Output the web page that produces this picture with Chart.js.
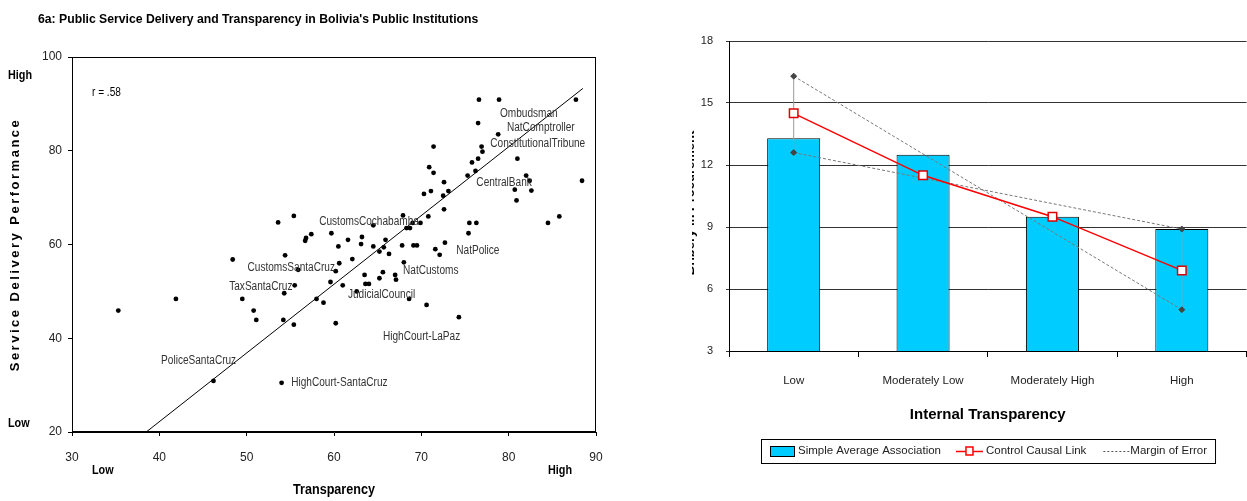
<!DOCTYPE html>
<html>
<head>
<meta charset="utf-8">
<script src="https://cdn.jsdelivr.net/npm/chart.js@4.4.0/dist/chart.umd.min.js"></script>
<style>
html, body { margin: 0; padding: 0; background: #fff; width: 1247px; height: 501px; overflow: hidden; }
#scatter { position: absolute; left: 0; top: 0; }
#bars { position: absolute; left: 692px; top: 0; }
</style>
</head>
<body>
<canvas id="scatter" width="640" height="501"></canvas>
<canvas id="bars" width="562" height="501"></canvas>
<script>
// ---- left chart: institutions, transparency vs service delivery
var transparency = [35.3, 41.9, 46.2, 48.4, 49.5, 50.8, 51.1, 54.0, 54.2, 54.3,
  55.4, 55.5, 55.9, 58.0, 58.8, 59.6, 60.2, 60.2, 60.6, 55.4,
  53.6, 57.4, 56.8, 56.7, 59.7, 61.6, 63.2, 63.1, 60.5, 64.5,
  64.5, 65.9, 65.7, 65.2, 66.3, 54.4, 62.1, 61.0, 63.5, 64.0,
  63.6, 65.2, 65.6, 67.0, 67.1, 62.6, 76.6, 78.9, 87.7, 76.5,
  78.8, 76.9, 77.0, 71.4, 76.5, 75.8, 81.0, 70.9, 71.4, 76.2,
  75.3, 82.0, 82.4, 88.4, 72.6, 73.1, 71.1, 70.3, 72.5, 80.7,
  82.6, 80.9, 72.6, 70.8, 67.9, 69.9, 68.3, 68.7, 69.0, 75.5,
  76.3, 75.4, 84.5, 85.8, 67.8, 69.1, 69.5, 72.7, 71.6, 72.1,
  68.0, 68.6, 70.6, 74.3];
var serviceDelivery = [45.9, 48.4, 30.9, 56.8, 48.4, 45.9, 43.9, 30.5, 43.9, 49.6,
  42.9, 51.3, 54.6, 48.4, 47.6, 52.0, 54.3, 43.2, 56.0, 66.1,
  64.7, 62.2, 61.4, 60.8, 62.4, 61.0, 61.6, 60.1, 59.6, 64.1,
  59.6, 61.0, 59.4, 58.5, 58.0, 57.7, 56.9, 51.3, 53.5, 51.6,
  51.6, 52.8, 54.1, 53.5, 52.5, 50.0, 90.9, 90.9, 90.9, 85.9,
  83.5, 80.9, 79.8, 80.9, 78.3, 77.5, 78.3, 76.5, 75.3, 75.7,
  74.7, 74.7, 73.6, 73.6, 73.3, 71.4, 71.4, 70.8, 70.4, 71.7,
  71.5, 69.4, 67.5, 66.0, 66.2, 64.6, 63.5, 63.5, 64.6, 64.6,
  64.6, 62.4, 64.6, 66.0, 59.8, 59.8, 59.8, 60.4, 59.0, 57.8,
  56.2, 48.4, 47.1, 44.5];

// fitted line end points
var fitX = [38.5, 88.5];
var fitY = [20, 93.3];

// institution names and where their text sits (data units, left edge)
var instNames = ['Ombudsman', 'NatComptroller', 'ConstitutionalTribune', 'CentralBank',
  'CustomsCochabamba', 'NatPolice', 'NatCustoms', 'JudicialCouncil', 'CustomsSantaCruz',
  'TaxSantaCruz', 'HighCourt-LaPaz', 'PoliceSantaCruz', 'HighCourt-SantaCruz'];
var instX = [79.0, 79.8, 77.9, 76.3, 58.3, 74.0, 67.9, 61.6, 50.1, 48.0, 65.6, 40.2, 55.1];
var instY = [87.9, 84.9, 81.6, 73.1, 64.8, 58.7, 54.4, 49.4, 55.1, 50.9, 40.4, 35.3, 30.6];

var xTicks = [30, 40, 50, 60, 70, 80, 90];
var yTicks = [20, 40, 60, 80, 100];

// ---- right chart: internal transparency
var categories = ['Low', 'Moderately Low', 'Moderately High', 'High'];
var simpleAverage = [13.3, 12.5, 9.5, 8.9];
var controlCausal = [14.5, 11.5, 9.5, 6.9];
var marginA = [16.3, null, null, 5.0];
var marginB = [12.6, null, null, 8.9];

var plain = '"Liberation Sans", Arial, sans-serif';

var scatterPoints = transparency.map(function(v, i) { return { x: v, y: serviceDelivery[i] }; });
var fitPoints = fitX.map(function(v, i) { return { x: v, y: fitY[i] }; });

// no narrow font installed, so squeeze the text a bit
function squeezed(ctx, text, x, y, sx) {
  ctx.save();
  ctx.translate(x, y);
  ctx.scale(sx, 1);
  ctx.fillText(text, 0, 0);
  ctx.restore();
}

var scatterText = {
  id: 'scatterText',
  afterDraw: function(chart) {
    var ctx = chart.ctx, a = chart.chartArea;
    var xs = chart.scales.x, ys = chart.scales.y;
    ctx.save();
    ctx.strokeStyle = '#000';
    ctx.lineWidth = 1;
    ctx.strokeRect(Math.round(a.left) + 0.5, Math.round(a.top) + 0.5,
      Math.round(a.right - a.left) - 1, Math.round(a.bottom - a.top) - 1);

    ctx.fillStyle = '#333';
    ctx.font = '12px ' + plain;
    ctx.textBaseline = 'middle';
    ctx.textAlign = 'left';
    instNames.forEach(function(n, i) {
      squeezed(ctx, n, xs.getPixelForValue(instX[i]), ys.getPixelForValue(instY[i]), 0.84);
    });
    ctx.fillStyle = '#000';
    squeezed(ctx, 'r = .58', 92, 93, 0.84);

    ctx.font = 'bold 13px ' + plain;
    squeezed(ctx, "6a: Public Service Delivery and Transparency in Bolivia's Public Institutions", 38, 19, 0.94);

    ctx.font = 'bold 12px ' + plain;
    squeezed(ctx, 'High', 8, 76, 0.9);
    squeezed(ctx, 'Low', 8, 424, 0.9);
    squeezed(ctx, 'Low', 92, 471, 0.9);
    squeezed(ctx, 'High', 548, 471, 0.9);
    ctx.textAlign = 'center';
    ctx.font = 'bold 14px ' + plain;
    squeezed(ctx, 'Transparency', 334, 490, 0.9);

    ctx.translate(15, (a.top + a.bottom) / 2);
    ctx.rotate(-Math.PI / 2);
    ctx.font = 'bold 13px ' + plain;
    ctx.letterSpacing = '2.5px';
    ctx.fillText('Service Delivery Performance', 0, 0);
    ctx.restore();
  }
};

new Chart(document.getElementById('scatter'), {
  type: 'scatter',
  data: {
    datasets: [{
      data: scatterPoints,
      pointRadius: 2.4,
      pointBackgroundColor: '#000',
      pointBorderWidth: 0
    }, {
      type: 'line',
      data: fitPoints,
      borderColor: '#000',
      borderWidth: 1,
      pointRadius: 0
    }]
  },
  options: {
    responsive: false,
    animation: false,
    layout: { padding: { left: 0, right: 44, top: 57, bottom: 0 } },
    plugins: { legend: { display: false }, tooltip: { enabled: false } },
    scales: {
      x: {
        type: 'linear', min: 30, max: 90,
        afterBuildTicks: function(s) { s.ticks = xTicks.map(function(v) { return { value: v }; }); },
        afterFit: function(s) { s.height = 69; },
        grid: { drawOnChartArea: false, tickLength: 4, color: '#000' },
        border: { color: '#000' },
        ticks: { padding: 14, color: '#222', font: { family: plain, size: 12 } }
      },
      y: {
        min: 20, max: 100,
        afterBuildTicks: function(s) { s.ticks = yTicks.map(function(v) { return { value: v }; }); },
        afterFit: function(s) { s.width = 72; },
        grid: { drawOnChartArea: false, tickLength: 4, color: '#000' },
        border: { color: '#000' },
        ticks: { padding: 6, color: '#222', font: { family: plain, size: 12 } }
      }
    }
  },
  plugins: [scatterText]
});

// legend in a frame plus the clipped side title
var boxLegend = {
  id: 'boxLegend',
  afterDraw: function(chart) {
    var ctx = chart.ctx, ds = chart.data.datasets;
    var y = 451, x = 78;
    ctx.save();
    ctx.font = '11.5px ' + plain;
    ctx.textBaseline = 'middle';
    ctx.textAlign = 'left';

    ctx.strokeStyle = '#000';
    ctx.lineWidth = 1;
    ctx.fillStyle = ds[0].backgroundColor;
    ctx.fillRect(x, y - 5, 24, 10);
    ctx.strokeRect(x + 0.5, y - 5 + 0.5, 24, 10);
    x += 28;
    ctx.fillStyle = '#222';
    ctx.fillText(ds[0].label, x, y);
    x += ctx.measureText(ds[0].label).width + 15;

    ctx.strokeStyle = ds[1].borderColor;
    ctx.lineWidth = 1.5;
    ctx.beginPath(); ctx.moveTo(x, y + 0.5); ctx.lineTo(x + 27, y + 0.5); ctx.stroke();
    ctx.fillStyle = '#fff';
    ctx.fillRect(x + 10, y - 4, 7, 8);
    ctx.strokeRect(x + 10, y - 4, 7, 8);
    x += 30;
    ctx.fillStyle = '#222';
    ctx.fillText(ds[1].label, x, y);
    x += ctx.measureText(ds[1].label).width + 17;

    ctx.strokeStyle = '#555';
    ctx.lineWidth = 1;
    ctx.setLineDash([2, 2]);
    ctx.beginPath(); ctx.moveTo(x, y + 0.5); ctx.lineTo(x + 26, y + 0.5); ctx.stroke();
    ctx.setLineDash([]);
    x += 27;
    ctx.fillText(ds[2].label, x, y);
    x += ctx.measureText(ds[2].label).width + 8;

    ctx.strokeStyle = '#000';
    ctx.lineWidth = 1;
    ctx.strokeRect(69.5, 439.5, x - 69, 24);

    ctx.translate(-2, 203);
    ctx.rotate(-Math.PI / 2);
    ctx.textAlign = 'center';
    ctx.fillStyle = '#000';
    ctx.font = 'bold 13px ' + plain;
    ctx.fillText('Bribery in Procurement', 0, 0);
    ctx.restore();
  }
};

var errStyle = { borderColor: '#999', borderWidth: 1, pointRadius: 0, order: 2 };

new Chart(document.getElementById('bars'), {
  type: 'bar',
  data: {
    labels: categories,
    datasets: [{
      label: 'Simple Average Association',
      data: simpleAverage,
      backgroundColor: '#00ccff',
      borderColor: '#000',
      borderWidth: 1,
      barPercentage: 0.41,
      categoryPercentage: 1,
      order: 3
    }, {
      type: 'line',
      label: 'Control Causal Link',
      data: controlCausal,
      borderColor: '#ff0000',
      borderWidth: 1.5,
      pointStyle: 'rect',
      pointRadius: 6,
      pointBackgroundColor: '#fff',
      pointBorderColor: '#e00000',
      pointBorderWidth: 1.5,
      order: 1
    }, {
      type: 'line',
      label: 'Margin of Error',
      data: marginA,
      spanGaps: true,
      borderColor: '#777',
      borderWidth: 1,
      borderDash: [3, 2],
      pointStyle: 'rectRot',
      pointRadius: 3,
      pointBackgroundColor: '#444',
      pointBorderColor: '#444',
      order: 2
    }, {
      type: 'line',
      label: 'Margin of Error',
      data: marginB,
      spanGaps: true,
      borderColor: '#777',
      borderWidth: 1,
      borderDash: [3, 2],
      pointStyle: 'rectRot',
      pointRadius: 3,
      pointBackgroundColor: '#444',
      pointBorderColor: '#444',
      order: 2
    }, Object.assign({
      type: 'line',
      data: [{ x: categories[0], y: marginB[0] }, { x: categories[0], y: marginA[0] }]
    }, errStyle), Object.assign({
      type: 'line',
      data: [{ x: categories[3], y: marginA[3] }, { x: categories[3], y: marginB[3] }]
    }, errStyle)]
  },
  options: {
    responsive: false,
    animation: false,
    layout: { padding: { left: 0, right: 1, top: 41, bottom: 70 } },
    plugins: { legend: { display: false }, tooltip: { enabled: false } },
    scales: {
      x: {
        afterFit: function(s) { s.height = 80; },
        grid: { offset: true, drawOnChartArea: false, tickLength: 6, color: '#000' },
        border: { color: '#000' },
        ticks: { padding: 17, color: '#222', font: { family: plain, size: 11.5 } },
        title: { display: true, text: 'Internal Transparency', color: '#000',
          font: { family: plain, size: 15, weight: 'bold' }, padding: { top: 0, bottom: 7 } }
      },
      y: {
        min: 3, max: 18,
        ticks: { stepSize: 3, padding: 13, color: '#222', font: { family: plain, size: 11 } },
        afterFit: function(s) { s.width = 37; },
        grid: { color: '#333', tickLength: 3 },
        border: { color: '#000' }
      }
    }
  },
  plugins: [boxLegend]
});
</script>
</body>
</html>
